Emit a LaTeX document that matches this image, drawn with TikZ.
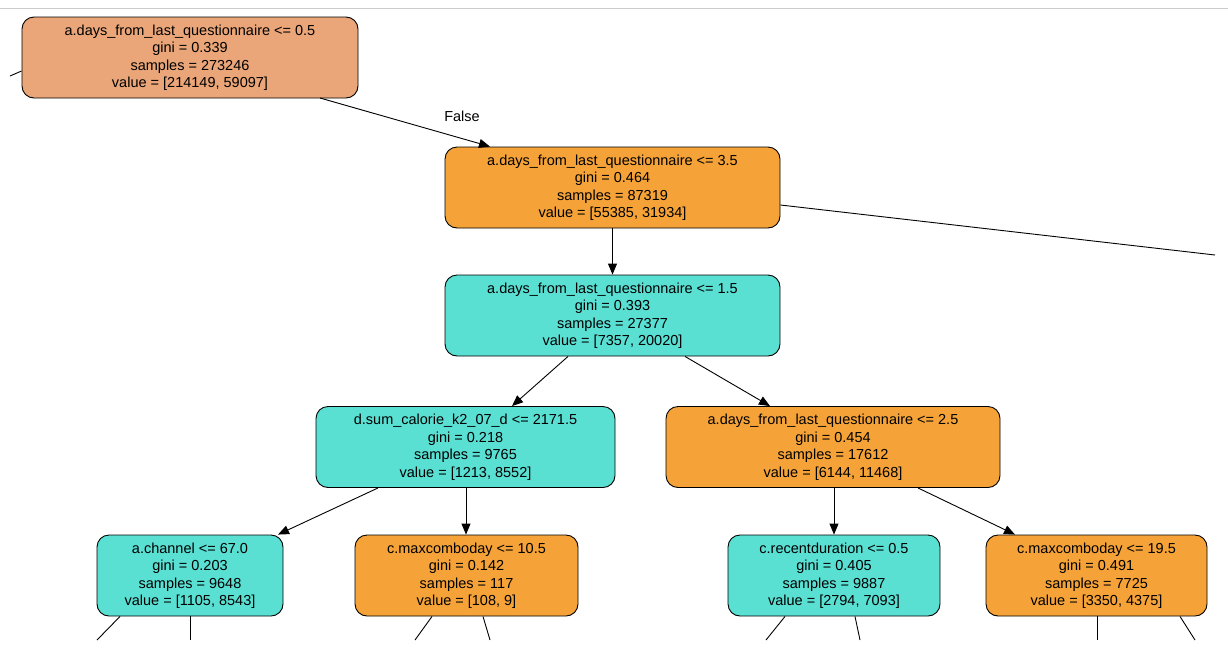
\documentclass[tikz,border=0pt]{standalone}
\usepackage{fontspec}
\setmainfont{Liberation Sans}
\usetikzlibrary{arrows.meta}
\definecolor{sal}{RGB}{234,166,120}
\definecolor{org}{RGB}{245,163,57}
\definecolor{tq}{RGB}{90,223,211}
\begin{document}
\begin{tikzpicture}[x=1pt,y=-1pt,
  box/.style={draw=black,line width=0.9pt,rounded corners=12pt,align=center,font=\fontsize{14.5}{17.5}\selectfont,inner sep=0pt},
  edge/.style={line width=0.9pt,-{Triangle[length=11pt,width=9pt]}},
  stub/.style={line width=0.9pt}]
\useasboundingbox (0,0) rectangle (1228,654);
\draw[gray!40,line width=1pt] (0,8) -- (1228,8);
\newcommand{\bx}[7]{\node[box,fill=#6,minimum width=#4pt,minimum height=81pt] (#1) at (#2,#3) {#7};}
\bx{r}{190}{57.5}{336}{}{sal}{a.days\_from\_last\_questionnaire <= 0.5\\gini = 0.339\\samples = 273246\\value = [214149, 59097]}
\bx{n2}{612.5}{187.5}{335}{}{org}{a.days\_from\_last\_questionnaire <= 3.5\\gini = 0.464\\samples = 87319\\value = [55385, 31934]}
\bx{n3}{612.5}{315.5}{335}{}{tq}{a.days\_from\_last\_questionnaire <= 1.5\\gini = 0.393\\samples = 27377\\value = [7357, 20020]}
\bx{n4}{465.5}{447}{299}{}{tq}{d.sum\_calorie\_k2\_07\_d <= 2171.5\\gini = 0.218\\samples = 9765\\value = [1213, 8552]}
\bx{n5}{833}{447}{334}{}{org}{a.days\_from\_last\_questionnaire <= 2.5\\gini = 0.454\\samples = 17612\\value = [6144, 11468]}
\bx{n6}{190}{575.5}{186}{}{tq}{a.channel <= 67.0\\gini = 0.203\\samples = 9648\\value = [1105, 8543]}
\bx{n7}{466.5}{575.5}{223}{}{org}{c.maxcomboday <= 10.5\\gini = 0.142\\samples = 117\\value = [108, 9]}
\bx{n8}{834}{575.5}{212}{}{tq}{c.recentduration <= 0.5\\gini = 0.405\\samples = 9887\\value = [2794, 7093]}
\bx{n9}{1096.5}{575.5}{221}{}{org}{c.maxcomboday <= 19.5\\gini = 0.491\\samples = 7725\\value = [3350, 4375]}
\coordinate (c0) at (10,76);
\coordinate (cR) at (1215,255);
\draw[stub] (c0) -- (r.west |- 0,71);
\draw[edge] (320,98) -- (n2.north west -| 490,147);
\node[font=\fontsize{14.5}{17.5}\selectfont] (f) at (462,116) {False};
\draw[stub] (n2.east |- 0,205) -- (cR);
\draw[edge] (n2) -- (n3);
\draw[edge] (n3.south -| 568,356) -- (n4.north -| 512,406);
\draw[edge] (n3.south -| 685,356) -- (n5.north -| 770,406);
\draw[edge] (n4.south -| 378,488) -- (n6.north -| 278,535);
\draw[edge] (n4.south -| 466,488) -- (n7.north -| 466,535);
\draw[edge] (n5.south -| 834,488) -- (n8);
\draw[edge] (n5.south -| 918,488) -- (n9.north -| 1015,535);
\foreach \n/\a/\b in {n6/120/97,n6/190/190,n7/432/415,n7/483/490,n8/785/766,n8/855/860,n9/1097/1097,n9/1180/1195}
  \draw[stub] (\n.south -| \a,616) -- (\b,640);
\end{tikzpicture}
\end{document}
